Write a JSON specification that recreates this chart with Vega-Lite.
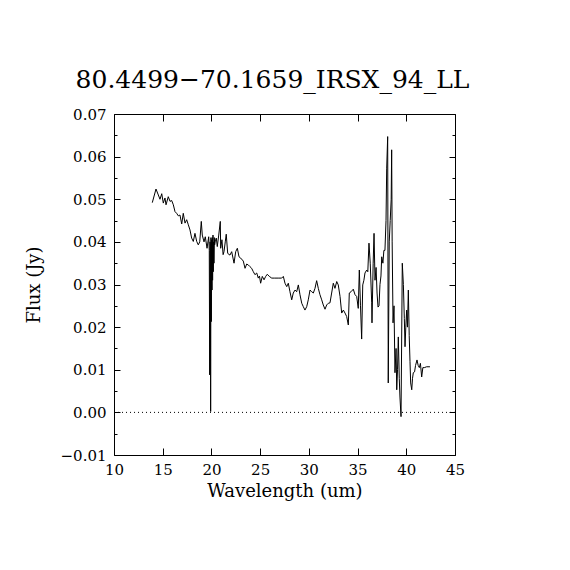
{
  "$schema": "https://vega.github.io/schema/vega-lite/v6.json",
  "width": 341,
  "height": 341,
  "autosize": "none",
  "padding": {"left": 114, "top": 114, "right": 115, "bottom": 115},
  "background": "white",
  "title": {
    "text": "80.4499−70.1659_IRSX_94_LL",
    "font": "DejaVu Serif",
    "fontSize": 25,
    "fontWeight": "normal",
    "color": "black",
    "offset": 14,
    "dx": -12
  },
  "config": {
    "view": {"stroke": "black", "strokeWidth": 1},
    "axis": {
      "domain": false,
      "grid": false,
      "labelFont": "DejaVu Serif",
      "labelFontSize": 15,
      "labelColor": "black",
      "labelOverlap": false,
      "labelBound": false,
      "labelFlush": false,
      "titleFont": "DejaVu Serif",
      "titleFontSize": 18,
      "titleFontWeight": "normal",
      "titleColor": "black",
      "tickColor": "black",
      "tickWidth": 1
    }
  },
  "data": {
    "values": [
      {"wavelength": 13.93, "flux": 0.0492},
      {"wavelength": 14.31, "flux": 0.0524},
      {"wavelength": 14.55, "flux": 0.0510},
      {"wavelength": 14.72, "flux": 0.0500},
      {"wavelength": 14.90, "flux": 0.0513},
      {"wavelength": 15.06, "flux": 0.0491},
      {"wavelength": 15.23, "flux": 0.0503},
      {"wavelength": 15.34, "flux": 0.0487},
      {"wavelength": 15.57, "flux": 0.0506},
      {"wavelength": 15.75, "flux": 0.0495},
      {"wavelength": 15.92, "flux": 0.0497},
      {"wavelength": 16.09, "flux": 0.0487},
      {"wavelength": 16.26, "flux": 0.0471},
      {"wavelength": 16.43, "flux": 0.0467},
      {"wavelength": 16.60, "flux": 0.0461},
      {"wavelength": 16.77, "flux": 0.0463},
      {"wavelength": 16.95, "flux": 0.0442},
      {"wavelength": 17.11, "flux": 0.0467},
      {"wavelength": 17.29, "flux": 0.0444},
      {"wavelength": 17.46, "flux": 0.0452},
      {"wavelength": 17.63, "flux": 0.0440},
      {"wavelength": 17.80, "flux": 0.0428},
      {"wavelength": 17.97, "flux": 0.0409},
      {"wavelength": 18.14, "flux": 0.0401},
      {"wavelength": 18.31, "flux": 0.0420},
      {"wavelength": 18.49, "flux": 0.0401},
      {"wavelength": 18.65, "flux": 0.0393},
      {"wavelength": 18.80, "flux": 0.0400},
      {"wavelength": 18.96, "flux": 0.0448},
      {"wavelength": 19.06, "flux": 0.0416},
      {"wavelength": 19.24, "flux": 0.0400},
      {"wavelength": 19.37, "flux": 0.0412},
      {"wavelength": 19.55, "flux": 0.0385},
      {"wavelength": 19.72, "flux": 0.0412},
      {"wavelength": 19.78, "flux": 0.0380},
      {"wavelength": 19.82, "flux": 0.0088},
      {"wavelength": 19.86, "flux": 0.0400},
      {"wavelength": 19.89, "flux": 0.0390},
      {"wavelength": 19.92, "flux": 0.0002},
      {"wavelength": 19.95, "flux": 0.0410},
      {"wavelength": 19.99, "flux": 0.0213},
      {"wavelength": 20.02, "flux": 0.0405},
      {"wavelength": 20.06, "flux": 0.0287},
      {"wavelength": 20.09, "flux": 0.0410},
      {"wavelength": 20.12, "flux": 0.0310},
      {"wavelength": 20.16, "flux": 0.0416},
      {"wavelength": 20.19, "flux": 0.0330},
      {"wavelength": 20.23, "flux": 0.0400},
      {"wavelength": 20.26, "flux": 0.0350},
      {"wavelength": 20.30, "flux": 0.0410},
      {"wavelength": 20.33, "flux": 0.0393},
      {"wavelength": 20.42, "flux": 0.0405},
      {"wavelength": 20.50, "flux": 0.0409},
      {"wavelength": 20.60, "flux": 0.0389},
      {"wavelength": 20.75, "flux": 0.0416},
      {"wavelength": 20.91, "flux": 0.0448},
      {"wavelength": 20.95, "flux": 0.0385},
      {"wavelength": 21.08, "flux": 0.0405},
      {"wavelength": 21.20, "flux": 0.0370},
      {"wavelength": 21.29, "flux": 0.0377},
      {"wavelength": 21.42, "flux": 0.0400},
      {"wavelength": 21.52, "flux": 0.0418},
      {"wavelength": 21.67, "flux": 0.0373},
      {"wavelength": 21.90, "flux": 0.0369},
      {"wavelength": 22.08, "flux": 0.0377},
      {"wavelength": 22.32, "flux": 0.0350},
      {"wavelength": 22.49, "flux": 0.0377},
      {"wavelength": 22.66, "flux": 0.0385},
      {"wavelength": 22.83, "flux": 0.0365},
      {"wavelength": 23.00, "flux": 0.0362},
      {"wavelength": 23.27, "flux": 0.0355},
      {"wavelength": 23.45, "flux": 0.0338},
      {"wavelength": 23.62, "flux": 0.0348},
      {"wavelength": 23.78, "flux": 0.0346},
      {"wavelength": 23.95, "flux": 0.0342},
      {"wavelength": 24.13, "flux": 0.0338},
      {"wavelength": 24.30, "flux": 0.0330},
      {"wavelength": 24.47, "flux": 0.0323},
      {"wavelength": 24.65, "flux": 0.0327},
      {"wavelength": 24.81, "flux": 0.0315},
      {"wavelength": 24.93, "flux": 0.0320},
      {"wavelength": 25.05, "flux": 0.0303},
      {"wavelength": 25.22, "flux": 0.0319},
      {"wavelength": 25.40, "flux": 0.0311},
      {"wavelength": 25.57, "flux": 0.0319},
      {"wavelength": 25.73, "flux": 0.0324},
      {"wavelength": 25.94, "flux": 0.0319},
      {"wavelength": 26.19, "flux": 0.0315},
      {"wavelength": 26.50, "flux": 0.0315},
      {"wavelength": 26.85, "flux": 0.0315},
      {"wavelength": 27.21, "flux": 0.0315},
      {"wavelength": 27.38, "flux": 0.0319},
      {"wavelength": 27.55, "flux": 0.0303},
      {"wavelength": 27.73, "flux": 0.0295},
      {"wavelength": 27.89, "flux": 0.0303},
      {"wavelength": 28.06, "flux": 0.0283},
      {"wavelength": 28.24, "flux": 0.0264},
      {"wavelength": 28.40, "flux": 0.0280},
      {"wavelength": 28.58, "flux": 0.0287},
      {"wavelength": 28.75, "flux": 0.0283},
      {"wavelength": 28.92, "flux": 0.0299},
      {"wavelength": 29.09, "flux": 0.0276},
      {"wavelength": 29.27, "flux": 0.0256},
      {"wavelength": 29.43, "flux": 0.0248},
      {"wavelength": 29.60, "flux": 0.0240},
      {"wavelength": 29.78, "flux": 0.0248},
      {"wavelength": 29.94, "flux": 0.0264},
      {"wavelength": 30.12, "flux": 0.0287},
      {"wavelength": 30.29, "flux": 0.0283},
      {"wavelength": 30.46, "flux": 0.0280},
      {"wavelength": 30.63, "flux": 0.0291},
      {"wavelength": 30.80, "flux": 0.0309},
      {"wavelength": 30.97, "flux": 0.0291},
      {"wavelength": 31.14, "flux": 0.0276},
      {"wavelength": 31.32, "flux": 0.0264},
      {"wavelength": 31.48, "flux": 0.0252},
      {"wavelength": 31.66, "flux": 0.0242},
      {"wavelength": 31.83, "flux": 0.0252},
      {"wavelength": 32.00, "flux": 0.0256},
      {"wavelength": 32.17, "flux": 0.0257},
      {"wavelength": 32.34, "flux": 0.0280},
      {"wavelength": 32.51, "flux": 0.0303},
      {"wavelength": 32.68, "flux": 0.0291},
      {"wavelength": 32.86, "flux": 0.0307},
      {"wavelength": 33.02, "flux": 0.0299},
      {"wavelength": 33.20, "flux": 0.0272},
      {"wavelength": 33.37, "flux": 0.0233},
      {"wavelength": 33.54, "flux": 0.0240},
      {"wavelength": 33.71, "flux": 0.0233},
      {"wavelength": 33.88, "flux": 0.0225},
      {"wavelength": 34.05, "flux": 0.0205},
      {"wavelength": 34.15, "flux": 0.0280},
      {"wavelength": 34.33, "flux": 0.0283},
      {"wavelength": 34.56, "flux": 0.0289},
      {"wavelength": 34.74, "flux": 0.0276},
      {"wavelength": 34.91, "flux": 0.0272},
      {"wavelength": 35.07, "flux": 0.0244},
      {"wavelength": 35.18, "flux": 0.0334},
      {"wavelength": 35.30, "flux": 0.0250},
      {"wavelength": 35.42, "flux": 0.0172},
      {"wavelength": 35.53, "flux": 0.0299},
      {"wavelength": 35.65, "flux": 0.0310},
      {"wavelength": 35.76, "flux": 0.0327},
      {"wavelength": 35.94, "flux": 0.0334},
      {"wavelength": 36.05, "flux": 0.0330},
      {"wavelength": 36.17, "flux": 0.0397},
      {"wavelength": 36.30, "flux": 0.0350},
      {"wavelength": 36.45, "flux": 0.0257},
      {"wavelength": 36.48, "flux": 0.0210},
      {"wavelength": 36.60, "flux": 0.0350},
      {"wavelength": 36.69, "flux": 0.0420},
      {"wavelength": 36.79, "flux": 0.0310},
      {"wavelength": 36.90, "flux": 0.0340},
      {"wavelength": 37.00, "flux": 0.0280},
      {"wavelength": 37.10, "flux": 0.0247},
      {"wavelength": 37.20, "flux": 0.0250},
      {"wavelength": 37.30, "flux": 0.0300},
      {"wavelength": 37.40, "flux": 0.0320},
      {"wavelength": 37.48, "flux": 0.0365},
      {"wavelength": 37.60, "flux": 0.0350},
      {"wavelength": 37.70, "flux": 0.0380},
      {"wavelength": 37.81, "flux": 0.0380},
      {"wavelength": 37.92, "flux": 0.0450},
      {"wavelength": 37.99, "flux": 0.0573},
      {"wavelength": 38.09, "flux": 0.0647},
      {"wavelength": 38.15, "flux": 0.0069},
      {"wavelength": 38.25, "flux": 0.0400},
      {"wavelength": 38.35, "flux": 0.0450},
      {"wavelength": 38.45, "flux": 0.0500},
      {"wavelength": 38.50, "flux": 0.0616},
      {"wavelength": 38.55, "flux": 0.0400},
      {"wavelength": 38.64, "flux": 0.0210},
      {"wavelength": 38.74, "flux": 0.0250},
      {"wavelength": 38.84, "flux": 0.0093},
      {"wavelength": 38.95, "flux": 0.0150},
      {"wavelength": 39.02, "flux": 0.0053},
      {"wavelength": 39.10, "flux": 0.0100},
      {"wavelength": 39.18, "flux": 0.0177},
      {"wavelength": 39.28, "flux": 0.0080},
      {"wavelength": 39.35, "flux": 0.0036},
      {"wavelength": 39.46, "flux": -0.0010},
      {"wavelength": 39.59, "flux": 0.0350},
      {"wavelength": 39.70, "flux": 0.0300},
      {"wavelength": 39.80, "flux": 0.0220},
      {"wavelength": 39.87, "flux": 0.0154},
      {"wavelength": 39.95, "flux": 0.0200},
      {"wavelength": 40.04, "flux": 0.0240},
      {"wavelength": 40.12, "flux": 0.0200},
      {"wavelength": 40.21, "flux": 0.0287},
      {"wavelength": 40.30, "flux": 0.0180},
      {"wavelength": 40.38, "flux": 0.0120},
      {"wavelength": 40.45, "flux": 0.0069},
      {"wavelength": 40.56, "flux": 0.0053},
      {"wavelength": 40.64, "flux": 0.0080},
      {"wavelength": 40.72, "flux": 0.0093},
      {"wavelength": 40.85, "flux": 0.0095},
      {"wavelength": 40.95, "flux": 0.0110},
      {"wavelength": 41.10, "flux": 0.0123},
      {"wavelength": 41.22, "flux": 0.0110},
      {"wavelength": 41.34, "flux": 0.0105},
      {"wavelength": 41.45, "flux": 0.0115},
      {"wavelength": 41.58, "flux": 0.0083},
      {"wavelength": 41.70, "flux": 0.0105},
      {"wavelength": 41.85, "flux": 0.0105},
      {"wavelength": 42.09, "flux": 0.0107},
      {"wavelength": 42.43, "flux": 0.0107}
    ]
  },
  "layer": [
    {
      "data": {"values": [{"level": 0}]},
      "mark": {"type": "rule", "color": "black", "strokeWidth": 1, "strokeDash": [1, 3]},
      "encoding": {
        "y": {"field": "level", "type": "quantitative", "axis": null}
      }
    },
    {
      "mark": {"type": "line", "opacity": 0},
      "encoding": {
        "x": {
          "field": "wavelength",
          "type": "quantitative",
          "axis": {"orient": "top", "title": null, "labels": false, "values": [10, 15, 20, 25, 30, 35, 40, 45], "tickSize": -7}
        },
        "y": {
          "field": "flux",
          "type": "quantitative",
          "axis": {
            "orient": "right",
            "title": null,
            "labels": false,
            "values": [-0.01, -0.005, 0, 0.005, 0.01, 0.015, 0.02, 0.025, 0.03, 0.035, 0.04, 0.045, 0.05, 0.055, 0.06, 0.065, 0.07],
            "tickSize": {"condition": {"test": "abs(round(datum.value * 200)) % 2 == 0", "value": -6}, "value": -3}
          }
        }
      }
    },
    {
      "mark": {"type": "line", "color": "black", "strokeWidth": 1},
      "encoding": {
        "x": {
          "field": "wavelength",
          "type": "quantitative",
          "scale": {"domain": [10, 45], "nice": false, "zero": false},
          "axis": {
            "orient": "bottom",
            "title": "Wavelength (um)",
            "values": [10, 15, 20, 25, 30, 35, 40, 45],
            "tickSize": -7,
            "labelPadding": 14,
            "titlePadding": 5
          }
        },
        "y": {
          "field": "flux",
          "type": "quantitative",
          "scale": {"domain": [-0.01, 0.07], "nice": false, "zero": false},
          "axis": {
            "orient": "left",
            "title": "Flux (Jy)",
            "values": [-0.01, -0.005, 0, 0.005, 0.01, 0.015, 0.02, 0.025, 0.03, 0.035, 0.04, 0.045, 0.05, 0.055, 0.06, 0.065, 0.07],
            "labelExpr": "abs(round(datum.value * 200)) % 2 == 0 ? format(datum.value, '.2f') : ''",
            "tickSize": {"condition": {"test": "abs(round(datum.value * 200)) % 2 == 0", "value": -6}, "value": -3},
            "labelPadding": 14,
            "titlePadding": 17
          }
        }
      }
    }
  ],
  "resolve": {"axis": {"x": "independent", "y": "independent"}}
}
